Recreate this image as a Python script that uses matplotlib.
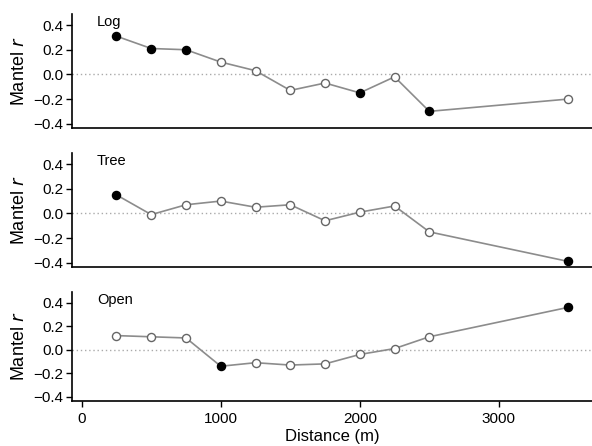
import matplotlib
matplotlib.use("Agg")
import matplotlib.pyplot as plt
import numpy as np

plt.rcParams['font.family'] = ['Liberation Sans', 'DejaVu Sans']

distance = [250, 500, 750, 1000, 1250, 1500, 1750, 2000, 2250, 2500, 3500]
panels = ["Log", "Tree", "Open"]
log_r = [0.31, 0.21, 0.20, 0.10, 0.03, -0.13, -0.07, -0.15, -0.02, -0.30, -0.20]
log_sig = [1, 1, 1, 0, 0, 0, 0, 1, 0, 1, 0]
tree_r = [0.15, -0.01, 0.07, 0.10, 0.05, 0.07, -0.06, 0.01, 0.06, -0.15, -0.39]
tree_sig = [1, 0, 0, 0, 0, 0, 0, 0, 0, 0, 1]
open_r = [0.12, 0.11, 0.10, -0.14, -0.11, -0.13, -0.12, -0.04, 0.01, 0.11, 0.36]
open_sig = [0, 0, 0, 1, 0, 0, 0, 0, 0, 0, 1]

series = [(log_r, log_sig), (tree_r, tree_sig), (open_r, open_sig)]
yticks = [-0.4, -0.2, 0.0, 0.2, 0.4]
xticks = [0, 1000, 2000, 3000]

fig = plt.figure(figsize=(5.92, 4.46), dpi=100)
W, H = 592, 446
boxes = [(14, 128), (153, 267), (292, 401)]
left_px = 72
for i, ((top, bot), name, (vals, sig)) in enumerate(zip(boxes, panels, series)):
    ax = fig.add_axes([left_px / W, 1 - bot / H, (W - left_px) / W, (bot - top) / H])
    ax.axhline(0, color='#aaaaaa', linestyle=(0, (1, 2)), linewidth=1)
    ax.plot(distance, vals, color='#8c8c8c', linewidth=1.2, zorder=2)
    x = np.array(distance)
    v = np.array(vals)
    s = np.array(sig, dtype=bool)
    ax.scatter(x[~s], v[~s], s=34, facecolor='white', edgecolor='#666666', linewidth=1.0, zorder=3)
    ax.scatter(x[s], v[s], s=34, facecolor='black', edgecolor='black', linewidth=1.0, zorder=4)
    ax.set_xlim(-70, 3670)
    ax.set_ylim(-0.435, 0.49)
    ax.set_yticks(yticks)
    ax.set_yticklabels([f"{t:.1f}".replace('-', '\u2212') for t in yticks], fontsize=11)
    ax.spines['top'].set_visible(False)
    ax.spines['right'].set_visible(False)
    ax.spines['left'].set_linewidth(1.2)
    ax.spines['bottom'].set_linewidth(1.2)
    ax.set_ylabel(r"Mantel $\it{r}$", fontsize=13, labelpad=4)
    ax.text(0.048, 0.995, name, transform=ax.transAxes, fontsize=10.5, va='top', ha='left')
    ax.tick_params(axis='y', length=4, width=1, pad=2)
    if i < 2:
        ax.set_xticks([])
    else:
        ax.set_xticks(xticks)
        ax.set_xticklabels([str(t) for t in xticks], fontsize=11)
        ax.tick_params(axis='x', length=4, width=1, pad=4)
        ax.set_xlabel("Distance (m)", fontsize=12, labelpad=2)

fig.savefig("out.png", dpi=100)
